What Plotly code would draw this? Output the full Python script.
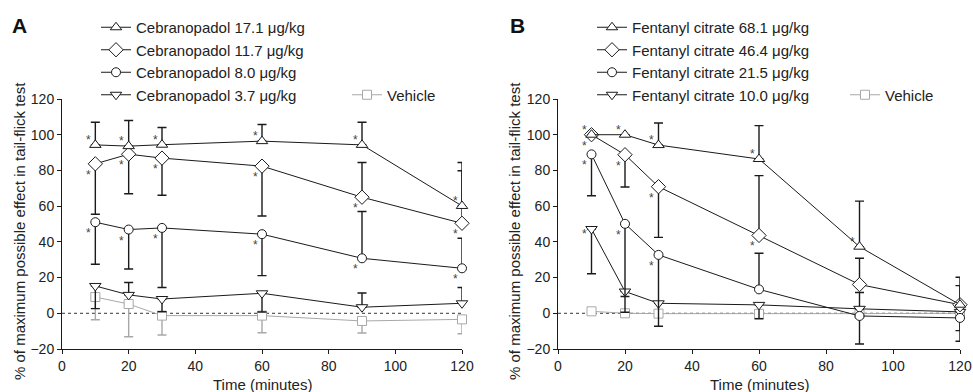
import plotly.graph_objects as go

# ---------------- data ----------------
times = [10, 20, 30, 60, 90, 120]

# Panel A: cebranopadol
ceb_171 = [94.3, 93.6, 94.4, 96.4, 94.3, 60.1]
ceb_171_up = [12.7, 14.4, 9.6, 9.3, 12.7, 24.3]
ceb_171_dn = [0, 0, 0, 0, 0, 0]

ceb_117 = [83.7, 89.1, 86.9, 82.4, 65.0, 50.4]
ceb_117_up = [0, 0, 0, 0, 19.4, 29.4]
ceb_117_dn = [28.2, 22.2, 20.8, 27.9, 0, 0]

ceb_80 = [51.0, 46.9, 47.8, 44.3, 30.8, 25.2]
ceb_80_up = [0, 0, 0, 0, 26.2, 16.8]
ceb_80_dn = [23.5, 22.1, 33.4, 23.2, 0, 0]

ceb_37 = [15.3, 10.3, 8.0, 11.2, 3.4, 5.6]
ceb_37_up = [0, 6.9, 0, 0, 8.0, 8.8]
ceb_37_dn = [12.7, 0, 7.1, 10.5, 0, 0]

veh_a = [9.1, 5.2, -1.3, -1.3, -4.3, -3.4]
veh_a_up = [0, 0, 0, 0, 0, 0]
veh_a_dn = [12.7, 18.3, 10.9, 9.6, 6.7, 8.1]

# Panel B: fentanyl citrate
fen_681 = [100, 100, 94.2, 86.4, 37.3, 4.8]
fen_681_up = [0, 0, 12.4, 18.7, 25.5, 10.7]
fen_681_dn = [0, 0, 0, 0, 0, 0]

fen_464 = [100, 88.8, 70.9, 43.6, 16.1, 4.8]
fen_464_up = [0, 0, 0, 33.5, 14.7, 15.4]
fen_464_dn = [0, 18.1, 28.4, 0, 0, 0]

fen_215 = [89.0, 50.1, 32.7, 13.4, -1.5, -2.6]
fen_215_up = [0, 0, 0, 20.2, 0, 0]
fen_215_dn = [23.2, 49.5, 40.0, 0, 15.7, 13.1]

fen_100 = [47.2, 12.2, 5.6, 4.7, 2.5, 0.8]
fen_100_up = [0, 0, 0, 0, 9.1, 0]
fen_100_dn = [25.1, 2.8, 0, 7.8, 0, 10.5]

veh_b = [1.1, 0.0, -0.2, -0.3, -0.2, 0.0]
veh_b_up = [0, 0, 0, 0, 0, 0]
veh_b_dn = [0, 0, 0, 0, 0, 0]

# significance (*) time points
sig_ceb_171 = [10, 20, 30, 60, 90, 120]
sig_ceb_117 = [10, 20, 30, 60, 90, 120]
sig_ceb_80 = [10, 20, 30, 60, 90, 120]
sig_ceb_37 = []
sig_fen_681 = [10, 20, 30, 60, 90]
sig_fen_464 = [10, 20, 30, 60]
sig_fen_215 = [10, 20, 30]
sig_fen_100 = [10]

x_ticks = [0, 20, 40, 60, 80, 100, 120]
y_ticks = [-20, 0, 20, 40, 60, 80, 100, 120]

# ---------------- layout helpers ----------------
W, H = 973, 392
def px(x):
    return x / W
def py(y):
    return 1 - y / H

FONT = "Liberation Sans, Arial, Helvetica, sans-serif"
BLACK = "#1a1a1a"
GREY = "#a8a8a8"

fig = go.Figure()

sym_shift = {"triangle-up": 5, "diamond": -11, "circle": -11, "triangle-down": -5, "square": -8}

def add_series(name, y, up, dn, sym, size, color, xa, ya, legend, sig):
    idx = [times.index(t) for t in sig]
    fig.add_trace(go.Scatter(
        x=times, y=y, name=name, mode="lines+markers",
        xaxis=xa, yaxis=ya, legend=legend, cliponaxis=False,
        line=dict(color=color, width=1),
        marker=dict(symbol=sym, size=size, color="white",
                    line=dict(color=color, width=1)),
        error_y=dict(type="data", symmetric=False, array=up, arrayminus=dn,
                     color=color, thickness=1.4, width=4.5),
    ))
    for i in idx:
        fig.add_annotation(x=times[i], y=y[i], xref=xa, yref=ya.replace("axis", ""),
                           text="*", showarrow=False, xshift=-7,
                           yshift=sym_shift[sym], xanchor="center", yanchor="middle",
                           font=dict(family=FONT, size=12, color="#444"))

# Panel A
add_series("Vehicle", veh_a, veh_a_up, veh_a_dn, "square", 9, GREY, "x", "y", "legend2", [])
add_series("Cebranopadol 3.7 μg/kg", ceb_37, ceb_37_up, ceb_37_dn, "triangle-down", 10, BLACK, "x", "y", "legend", sig_ceb_37)
add_series("Cebranopadol 8.0 μg/kg", ceb_80, ceb_80_up, ceb_80_dn, "circle", 9, BLACK, "x", "y", "legend", sig_ceb_80)
add_series("Cebranopadol 11.7 μg/kg", ceb_117, ceb_117_up, ceb_117_dn, "diamond", 11, BLACK, "x", "y", "legend", sig_ceb_117)
add_series("Cebranopadol 17.1 μg/kg", ceb_171, ceb_171_up, ceb_171_dn, "triangle-up", 10, BLACK, "x", "y", "legend", sig_ceb_171)

# Panel B
add_series("Vehicle", veh_b, veh_b_up, veh_b_dn, "square", 9, GREY, "x2", "y2", "legend4", [])
add_series("Fentanyl citrate 10.0 μg/kg", fen_100, fen_100_up, fen_100_dn, "triangle-down", 10, BLACK, "x2", "y2", "legend3", sig_fen_100)
add_series("Fentanyl citrate 21.5 μg/kg", fen_215, fen_215_up, fen_215_dn, "circle", 9, BLACK, "x2", "y2", "legend3", sig_fen_215)
add_series("Fentanyl citrate 46.4 μg/kg", fen_464, fen_464_up, fen_464_dn, "diamond", 11, BLACK, "x2", "y2", "legend3", sig_fen_464)
add_series("Fentanyl citrate 68.1 μg/kg", fen_681, fen_681_up, fen_681_dn, "triangle-up", 10, BLACK, "x2", "y2", "legend3", sig_fen_681)

# zero reference lines
for xr, yr in [("x", "y"), ("x2", "y2")]:
    fig.add_shape(type="line", xref=xr, yref=yr, x0=0, x1=120, y0=0, y1=0,
                  line=dict(color="#333", width=1, dash="dot"), layer="below")

axis_common = dict(showline=True, linecolor=BLACK, linewidth=1, ticks="outside",
                   ticklen=4, tickwidth=1, tickcolor=BLACK, showgrid=False,
                   zeroline=False, tickfont=dict(family=FONT, size=14, color="#222"))

fig.update_layout(
    width=W, height=H,
    margin=dict(l=0, r=0, t=0, b=0, autoexpand=False),
    plot_bgcolor="white", paper_bgcolor="white",
    font=dict(family=FONT, color="#222"),
    xaxis=dict(domain=[px(62), px(462)], range=[0, 120], tickvals=x_ticks, anchor="y", **axis_common),
    yaxis=dict(domain=[py(349), py(99)], range=[-20, 120], tickvals=y_ticks, anchor="x", **axis_common),
    xaxis2=dict(domain=[px(558), px(960)], range=[0, 120], tickvals=x_ticks, anchor="y2", **axis_common),
    yaxis2=dict(domain=[py(349), py(99)], range=[-20, 120], tickvals=y_ticks, anchor="x2", **axis_common),
)

LEG_TOP = 11
LEG_STEP = 22.5
leg_common = dict(xanchor="left", yanchor="top", bgcolor="rgba(0,0,0,0)", borderwidth=0,
                  traceorder="reversed", tracegroupgap=0, itemwidth=30,
                  font=dict(family=FONT, size=15, color="#222"))
fig.update_layout(
    legend=dict(x=px(96), y=py(LEG_TOP), **leg_common),
    legend2=dict(x=px(347), y=py(LEG_TOP + 3 * LEG_STEP), **leg_common),
    legend3=dict(x=px(592), y=py(LEG_TOP), **leg_common),
    legend4=dict(x=px(845), y=py(LEG_TOP + 3 * LEG_STEP), **leg_common),
)

# titles & panel labels
ytitle = "% of maximum possible effect in tail-flick test"
for xc in [19, 514]:
    fig.add_annotation(x=px(xc), y=py(231), xref="paper", yref="paper", text=ytitle,
                       textangle=-90, showarrow=False, xanchor="center", yanchor="middle",
                       font=dict(family=FONT, size=15, color="#222"))
for xc in [262, 759]:
    fig.add_annotation(x=px(xc), y=py(384), xref="paper", yref="paper", text="Time (minutes)",
                       showarrow=False, xanchor="center", yanchor="middle",
                       font=dict(family=FONT, size=15, color="#222"))
for xc, lab in [(19, "A"), (517, "B")]:
    fig.add_annotation(x=px(xc), y=py(25), xref="paper", yref="paper", text="<b>%s</b>" % lab,
                       showarrow=False, xanchor="center", yanchor="middle",
                       font=dict(family=FONT, size=21, color="#111"))

fig.write_html("out.html", config={"displayModeBar": False},
               post_script="document.body.style.margin='0';document.body.style.overflow='hidden';")
